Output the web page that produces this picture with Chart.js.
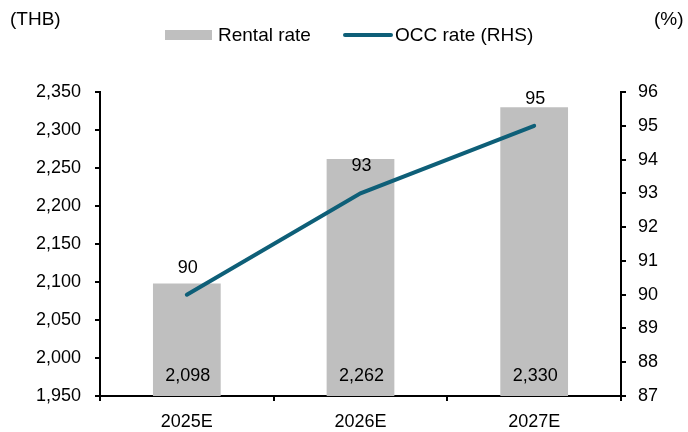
<!DOCTYPE html>
<html>
<head>
<meta charset="utf-8">
<script src="https://cdn.jsdelivr.net/npm/chart.js@4.4.1/dist/chart.umd.min.js"></script>
<style>
  html, body { margin: 0; padding: 0; background: #fff; }
  #wrap { position: relative; width: 688px; height: 432px; font-family: Arial, "Liberation Sans", sans-serif; color: #000; }
  canvas { position: absolute; left: 0; top: 0; }
  .lbl { position: absolute; font-size: 19px; line-height: 20px; white-space: nowrap; }
  .swatch { position: absolute; }
</style>
</head>
<body>
<div id="wrap">
  <canvas id="chart" width="688" height="432"></canvas>
  <div class="lbl" style="left:10px; top:9px;">(THB)</div>
  <div class="lbl" style="left:654px; top:9px;">(%)</div>
  <div class="swatch" style="left:165px; top:30px; width:47px; height:10px; background:#bfbfbf;"></div>
  <div class="lbl" style="left:218px; top:25px;">Rental rate</div>
  <div class="swatch" style="left:343px; top:33px; width:50px; height:4px; border-radius:2px; background:#0e5f78;"></div>
  <div class="lbl" style="left:395px; top:25px;">OCC rate (RHS)</div>
</div>
<script>
// chart data
const years = ['2025E', '2026E', '2027E'];
const rentalRate = [2098, 2262, 2330];
const occRate = [90, 93, 95];

const barColor = '#bfbfbf';
const lineColor = '#0e5f78';

// value labels: bar values near the bottom, line values above the points
const valueLabels = {
  id: 'valueLabels',
  afterDatasetsDraw(chart) {
    const ctx = chart.ctx;
    ctx.save();
    ctx.font = '18px Arial, "Liberation Sans", sans-serif';
    ctx.fillStyle = '#000';
    ctx.textAlign = 'center';
    ctx.textBaseline = 'middle';
    // dataset 0 = line, dataset 1 = bars
    chart.getDatasetMeta(1).data.forEach((bar, i) => {
      ctx.fillText(rentalRate[i].toLocaleString('en-US'), bar.x + 1, chart.chartArea.bottom - 20);
    });
    chart.getDatasetMeta(0).data.forEach((pt, i) => {
      ctx.fillText(String(occRate[i]), pt.x + 1, pt.y - 27);
    });
    ctx.restore();
  }
};

const tickFont = { family: 'Arial, "Liberation Sans", sans-serif', size: 18 };

new Chart(document.getElementById('chart'), {
  data: {
    labels: years,
    datasets: [
      {
        type: 'line',
        label: 'OCC rate (RHS)',
        data: occRate,
        yAxisID: 'y1',
        borderColor: lineColor,
        borderWidth: 4,
        borderCapStyle: 'round',
        pointRadius: 0,
        tension: 0,
        order: 0
      },
      {
        type: 'bar',
        label: 'Rental rate',
        data: rentalRate,
        yAxisID: 'y',
        backgroundColor: barColor,
        barPercentage: 0.39,
        categoryPercentage: 1.0,
        order: 1
      }
    ]
  },
  options: {
    responsive: false,
    animation: false,
    layout: { padding: { top: 92, left: 0, right: 0, bottom: 0 } },
    plugins: { legend: { display: false }, tooltip: { enabled: false } },
    scales: {
      x: {
        grid: { display: true, drawOnChartArea: false, offset: true, tickLength: 5, color: '#000', lineWidth: 2 },
        border: { color: '#000', width: 2 },
        ticks: { color: '#000', font: tickFont, padding: 10, maxRotation: 0 },
        afterFit(scale) { scale.height = 36; }
      },
      y: {
        position: 'left',
        min: 1950,
        max: 2350,
        grid: { drawOnChartArea: false, tickLength: 5, color: '#000', lineWidth: 2 },
        border: { color: '#000', width: 2 },
        ticks: {
          stepSize: 50,
          color: '#000',
          font: tickFont,
          padding: 14,
          callback: v => v.toLocaleString('en-US')
        },
        afterFit(scale) { scale.width = 100; }
      },
      y1: {
        position: 'right',
        min: 87,
        max: 96,
        grid: { drawOnChartArea: false, tickLength: 5, color: '#000', lineWidth: 2 },
        border: { color: '#000', width: 2 },
        ticks: { stepSize: 1, color: '#000', font: tickFont, padding: 12 },
        afterFit(scale) { scale.width = 67; }
      }
    }
  },
  plugins: [valueLabels]
});
</script>
</body>
</html>
